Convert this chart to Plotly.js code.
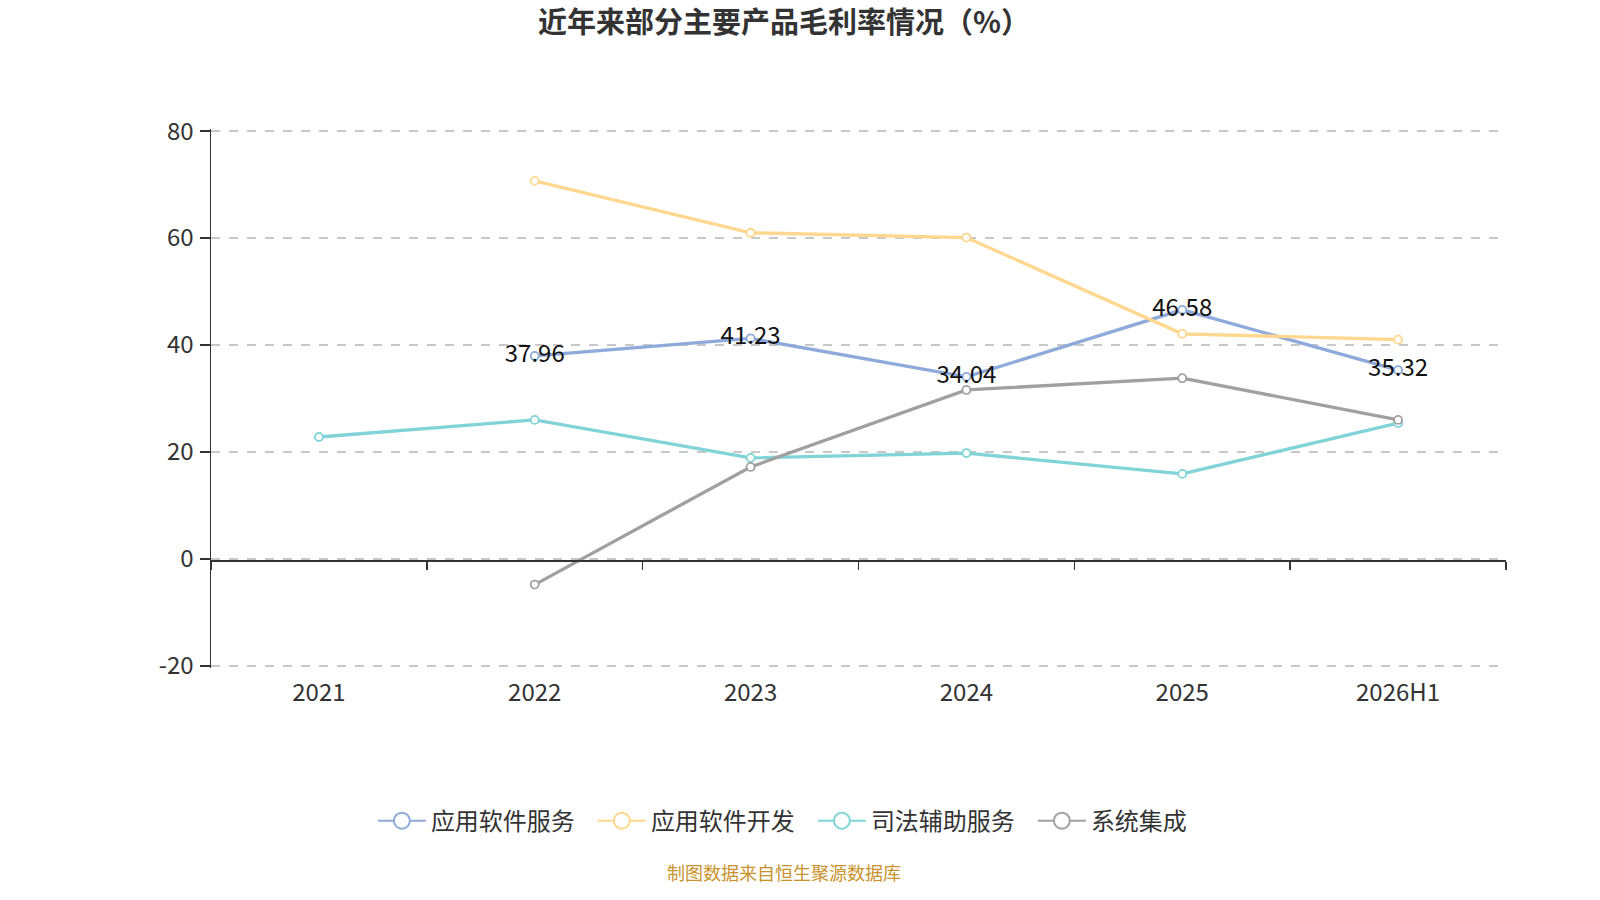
<!DOCTYPE html>
<html>
<head>
<meta charset="utf-8">
<script src="https://cdn.plot.ly/plotly-3.0.1.min.js"></script>
<style>
  html, body { margin: 0; padding: 0; background: #fff; }
  #chart { width: 1600px; height: 900px; }
</style>
</head>
<body>
<div id="chart"></div>
<script>
var years = ['2021', '2022', '2023', '2024', '2025', '2026H1'];

var appService = [null, 37.96, 41.23, 34.04, 46.58, 35.32];
var appDev = [null, 70.7, 61.0, 60.1, 42.1, 41.0];
var judicial = [22.8, 26.0, 18.9, 19.8, 15.9, 25.4];
var sysIntegration = [null, -4.8, 17.2, 31.6, 33.8, 26.0];

var yTickVals = [-20, 0, 20, 40, 60, 80];
var yTickText = ['-20', '0', '20', '40', '60', '80'];

var seriesNames = ['应用软件服务', '应用软件开发', '司法辅助服务', '系统集成'];
var seriesColors = ['#8eaadb', '#ffd78f', '#80d4d7', '#a0a0a0'];
var seriesValues = [appService, appDev, judicial, sysIntegration];

var font = '"Noto Sans CJK SC", "Noto Sans", sans-serif';

var data = [];
for (var i = 0; i < seriesValues.length; i++) {
    data.push({
        x: years,
        y: seriesValues[i],
        name: seriesNames[i],
        type: 'scatter',
        mode: 'lines+markers',
        line: { color: seriesColors[i], width: 3.3 },
        marker: {
            symbol: 'circle',
            size: 8,
            color: '#ffffff',
            line: { color: seriesColors[i], width: 1.8 }
        },
        showlegend: false,
        hoverinfo: 'x+y+name'
    });
}

// legend entries: thin line with a big hollow circle
for (var j = 0; j < seriesNames.length; j++) {
    data.push({
        x: years,
        y: years.map(function() { return null; }),
        name: seriesNames[j],
        type: 'scatter',
        mode: 'lines+markers',
        line: { color: seriesColors[j], width: 2 },
        marker: {
            symbol: 'circle',
            size: 16,
            color: '#ffffff',
            line: { color: seriesColors[j], width: 2 }
        },
        hoverinfo: 'skip'
    });
}

// value labels of 应用软件服务
data.push({
    x: years,
    y: appService,
    type: 'scatter',
    mode: 'text',
    text: appService.map(function(v) { return v === null ? '' : v.toFixed(2); }),
    textposition: 'middle center',
    textfont: { family: font, size: 24, color: '#111' },
    showlegend: false,
    hoverinfo: 'skip'
});

// axis line sitting at y = 0 with boundary ticks
data.push({
    x: years,
    y: years.map(function() { return null; }),
    xaxis: 'x2',
    type: 'scatter',
    mode: 'markers',
    showlegend: false,
    hoverinfo: 'skip'
});

var layout = {
    width: 1600,
    height: 900,
    paper_bgcolor: '#ffffff',
    plot_bgcolor: '#ffffff',
    margin: { l: 211, r: 94, t: 129, b: 232, autoexpand: false },
    font: { family: font, color: '#333' },
    title: {
        text: '<b>近年来部分主要产品毛利率情况（%）</b>',
        font: { family: font, size: 29, color: '#333' },
        x: 0.49,
        xanchor: 'center',
        y: 0.975,
        yanchor: 'middle'
    },
    xaxis: {
        type: 'category',
        categoryorder: 'array',
        categoryarray: years,
        range: [-0.5, 5.5],
        showline: false,
        showgrid: false,
        zeroline: false,
        ticks: '',
        tickfont: { family: font, size: 24, color: '#333' },
        ticklabelstandoff: 8,
        fixedrange: true
    },
    xaxis2: {
        type: 'category',
        categoryorder: 'array',
        categoryarray: years,
        range: [-0.5, 5.5],
        overlaying: 'x',
        anchor: 'free',
        position: 0.2,
        side: 'bottom',
        showline: true,
        linecolor: '#333',
        linewidth: 1.5,
        showgrid: false,
        zeroline: false,
        ticks: 'outside',
        tickson: 'boundaries',
        ticklen: 8,
        tickcolor: '#333',
        tickwidth: 1.5,
        showticklabels: false,
        fixedrange: true
    },
    yaxis: {
        range: [-20.4, 80.4],
        tickvals: yTickVals,
        ticktext: yTickText,
        showline: true,
        linecolor: '#333',
        linewidth: 1.5,
        ticks: 'outside',
        ticklen: 10,
        tickcolor: '#333',
        tickwidth: 1.5,
        showgrid: true,
        gridcolor: '#c8c8c8',
        gridwidth: 1.3,
        griddash: 'dash',
        zeroline: false,
        tickfont: { family: font, size: 24, color: '#333' },
        ticklabelstandoff: 1,
        fixedrange: true
    },
    showlegend: true,
    legend: {
        orientation: 'h',
        x: 0.125,
        xanchor: 'left',
        y: -0.284,
        yanchor: 'middle',
        font: { family: font, size: 24, color: '#333' },
        itemwidth: 48,
        entrywidth: 157,
        traceorder: 'normal'
    },
    annotations: [{
        text: '制图数据来自恒生聚源数据库',
        xref: 'paper',
        yref: 'paper',
        x: 0.4425,
        y: -0.378,
        xanchor: 'center',
        yanchor: 'middle',
        showarrow: false,
        font: { family: font, size: 18, color: '#c8922a' }
    }]
};

Plotly.newPlot('chart', data, layout, { displayModeBar: false, staticPlot: true });
</script>
</body>
</html>
